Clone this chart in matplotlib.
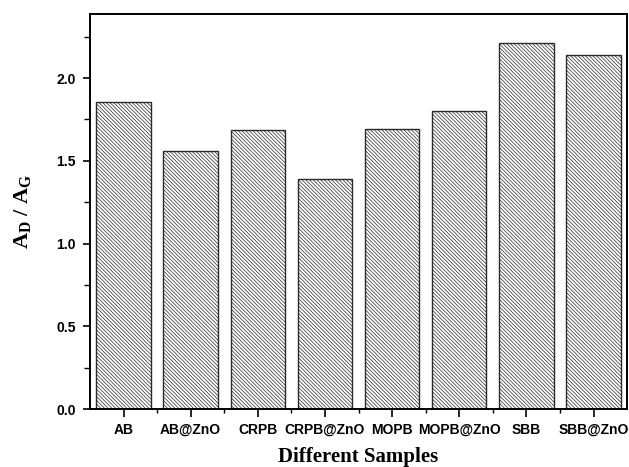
import matplotlib
matplotlib.use('Agg')
import matplotlib.pyplot as plt
import numpy as np

# Ratio of D to G band areas for each sample

samples = ['AB', 'AB@ZnO', 'CRPB', 'CRPB@ZnO', 'MOPB', 'MOPB@ZnO', 'SBB', 'SBB@ZnO']
ratio = [1.857, 1.559, 1.688, 1.388, 1.690, 1.799, 2.210, 2.139]
yticks = [0.0, 0.5, 1.0, 1.5, 2.0]

plt.rcParams['hatch.linewidth'] = 0.5
plt.rcParams['mathtext.fontset'] = 'custom'
plt.rcParams['mathtext.bf'] = 'Liberation Serif:bold'
plt.rcParams['mathtext.rm'] = 'Liberation Serif:bold'

fig = plt.figure(figsize=(6.29, 4.67), dpi=100)
ax = fig.add_axes([0.143, 0.124, 0.854, 0.846])

x = np.arange(len(samples))
ax.bar(x, ratio, width=0.81, color='white', edgecolor='#2a2a2a',
       linewidth=1.0, hatch='\\' * 9)

ax.set_xlim(-0.5, len(samples) - 0.5)
ax.set_ylim(0, 2.387)

ax.set_xticks(x)
ax.set_xticklabels(samples, fontfamily='Liberation Sans', fontweight='bold', fontsize=10)
ax.set_xticks(x[:-1] + 0.5, minor=True)
ax.set_yticks(yticks)
ax.set_yticklabels(['%.1f' % v for v in yticks], fontfamily='Liberation Sans',
                   fontweight='bold', fontsize=10)
ax.set_yticks(np.arange(0.25, 2.3, 0.5), minor=True)

ax.tick_params(axis='both', which='major', direction='out', length=5, width=1.2, pad=5)
ax.tick_params(axis='y', which='minor', direction='out', length=4, width=1.0)
ax.tick_params(axis='x', which='major', length=6, pad=4)
ax.tick_params(axis='x', which='minor', direction='out', length=3, width=1.0)

for s in ax.spines.values():
    s.set_linewidth(1.4)

ax.set_xlabel('Different Samples', fontfamily='Liberation Serif', fontweight='bold',
              fontsize=15, labelpad=7)
ax.set_ylabel(r'$\mathbf{A_D}$ / $\mathbf{A_G}$', fontfamily='Liberation Serif',
              fontweight='bold', fontsize=16, labelpad=17)

fig.savefig('out.png', dpi=100)
